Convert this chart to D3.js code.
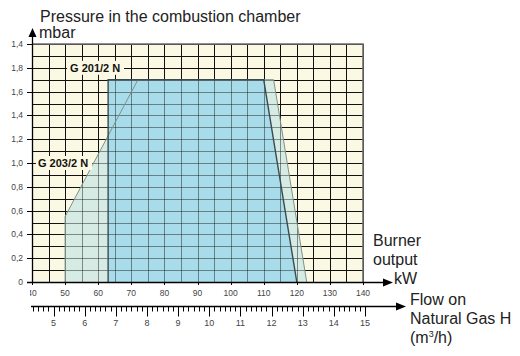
<!DOCTYPE html>
<html><head><meta charset="utf-8">
<script src="https://cdn.jsdelivr.net/npm/d3@7"></script>
<style>
html,body{margin:0;padding:0;background:#fff;}
svg{display:block;font-family:"Liberation Sans",Arial,Helvetica,sans-serif;}
</style></head>
<body>
<svg id="c" width="520" height="356"></svg>
<script>
// ---- data ----
const pressureTickValues = [0, 0.2, 0.4, 0.6, 0.8, 1.0, 1.2, 1.4, 1.6, 1.8, 2.0];
const pressureTickLabels = ["0", "0,2", "0,4", "0,6", "0,8", "1,0", "1,2", "1,4", "1,6", "1,8", "1,4"];
const kwTickValues = [40, 50, 60, 70, 80, 90, 100, 110, 120, 130, 140];
const flowTickValues = [5, 6, 7, 8, 9, 10, 11, 12, 13, 14, 15];
const g201Kw = [63, 63, 110, 120];
const g201Mbar = [0, 1.7, 1.7, 0];
const g203Kw = [50, 50, 72, 113, 123];
const g203Mbar = [0, 0.55, 1.7, 1.7, 0];
const seriesNames = ["G 201/2 N", "G 203/2 N"];

// ---- layout ----
const svg = d3.select("#c");
const x = d3.scaleLinear().domain([40, 140]).range([32, 363]);
const y = d3.scaleLinear().domain([0, 2]).range([282, 44]);
const flow = d3.scaleLinear().domain([5, 15]).range([53.5, 365]);
const cream = "#fbf9e3";
const px = v => Math.round(v) + 0.5;

// background
svg.append("rect").attr("x", x(40)).attr("y", y(2)).attr("width", x(140) - x(40)).attr("height", y(0) - y(2)).attr("fill", cream);

const gridX = d3.range(40, 140.1, 5);
const gridY = d3.range(0, 20.1, 1).map(d => d / 10);
function drawGrid(g, op) {
  g.selectAll(".v").data(gridX).join("line")
    .attr("x1", d => px(x(d))).attr("x2", d => px(x(d)))
    .attr("y1", y(2)).attr("y2", y(0))
    .attr("stroke", "#111").attr("stroke-opacity", op).attr("stroke-width", 1);
  g.selectAll(".h").data(gridY).join("line")
    .attr("y1", d => px(y(d))).attr("y2", d => px(y(d)))
    .attr("x1", x(40)).attr("x2", x(140))
    .attr("stroke", "#111").attr("stroke-opacity", op).attr("stroke-width", 1);
}
drawGrid(svg.append("g"), 1);

const line = d3.line().x(d => x(d[0])).y(d => y(d[1]));
const g203 = g203Kw.map((k, i) => [k, g203Mbar[i]]);
const g201 = g201Kw.map((k, i) => [k, g201Mbar[i]]);

svg.append("path").attr("d", line(g203) + "Z").attr("fill", "#d5ebe3");
svg.append("path").attr("d", line(g201) + "Z").attr("fill", "#a9dcea");

// grid seen through fills
const gOver = svg.append("g");
drawGrid(gOver, 0.45);

// outlines
svg.append("path").attr("d", line(g203)).attr("fill", "none").attr("stroke", "#7f9189").attr("stroke-width", 1);
svg.append("path").attr("d", line(g201)).attr("fill", "none").attr("stroke", "#3a4a50").attr("stroke-width", 1.4);

// plot border top/right
svg.append("path")
  .attr("d", `M${px(x(40))},${y(2)}H${x(140)}V${y(0)}`)
  .attr("fill", "none").attr("stroke", "#6e6e6e").attr("stroke-width", 1.6);

// series labels
function seriesLabel(name, kw, mb, x0, x1) {
  svg.append("rect").attr("x", x(x0)).attr("y", y(mb) - 7).attr("width", x(x1) - x(x0)).attr("height", 14).attr("fill", cream);
  svg.append("text").attr("x", x(kw)).attr("y", y(mb)).attr("dy", "0.36em")
    .attr("font-size", 11).attr("font-weight", "bold").attr("fill", "#111").text(name);
}
seriesLabel(seriesNames[0], 51.5, 1.8, 50.6, 67.8);
seriesLabel(seriesNames[1], 41.8, 1.0, 41.2, 58.2);

// y axis
svg.append("line").attr("x1", px(x(40))).attr("x2", px(x(40))).attr("y1", y(0)).attr("y2", 34)
  .attr("stroke", "#000").attr("stroke-width", 1.3);
svg.append("path").attr("d", `M${px(x(40))},28 L${px(x(40)) - 4},37 L${px(x(40)) + 4},37Z`).attr("fill", "#000");
svg.selectAll(".yt").data(pressureTickValues).join("line")
  .attr("x1", 27).attr("x2", x(40)).attr("y1", d => px(y(d))).attr("y2", d => px(y(d)))
  .attr("stroke", "#000").attr("stroke-width", 1);
svg.selectAll(".yl").data(pressureTickValues).join("text")
  .attr("x", 23).attr("y", d => y(d)).attr("dy", "0.35em").attr("text-anchor", "end")
  .attr("font-size", 8.5).attr("fill", "#444").text((d, i) => pressureTickLabels[i]);

// x axis (kW)
svg.append("line").attr("x1", 27).attr("x2", 386).attr("y1", px(y(0))).attr("y2", px(y(0)))
  .attr("stroke", "#000").attr("stroke-width", 1.4);
svg.append("path").attr("d", `M393,${px(y(0))} L383,${px(y(0)) - 4} L383,${px(y(0)) + 4}Z`).attr("fill", "#000");
svg.selectAll(".xt").data(kwTickValues).join("line")
  .attr("x1", d => px(x(d))).attr("x2", d => px(x(d))).attr("y1", y(0)).attr("y2", y(0) + 3)
  .attr("stroke", "#000");
svg.append("clipPath").attr("id", "lc").append("rect").attr("x", 30).attr("y", 280).attr("width", 480).attr("height", 30);
svg.append("g").attr("clip-path", "url(#lc)").selectAll(".xl").data(kwTickValues).join("text")
  .attr("x", d => x(d)).attr("y", 296).attr("text-anchor", "middle")
  .attr("font-size", 8.5).attr("fill", "#444").text(d => d);

// flow axis
const fy = 306.5;
svg.append("line").attr("x1", 31).attr("x2", 398).attr("y1", fy).attr("y2", fy).attr("stroke", "#000").attr("stroke-width", 1.3);
svg.append("path").attr("d", `M406,${fy} L396,${fy - 4} L396,${fy + 4}Z`).attr("fill", "#000");
const minorFlow = d3.range(26, 91).map(d => d / 6).filter(d => Math.abs(d - Math.round(d)) > 0.01);
svg.selectAll(".fm").data(minorFlow).join("line")
  .attr("x1", d => px(flow(d))).attr("x2", d => px(flow(d))).attr("y1", fy).attr("y2", fy + 5)
  .attr("stroke", "#000").attr("stroke-width", 1);
svg.selectAll(".fM").data(flowTickValues).join("line")
  .attr("x1", d => px(flow(d))).attr("x2", d => px(flow(d))).attr("y1", fy).attr("y2", fy + 10)
  .attr("stroke", "#000").attr("stroke-width", 1);
svg.selectAll(".fl").data(flowTickValues).join("text")
  .attr("x", d => flow(d)).attr("y", 326).attr("text-anchor", "middle")
  .attr("font-size", 9).attr("fill", "#444").text(d => d);

// titles
const tcol = "#222";
const fs = 16;
svg.append("text").attr("x", 40).attr("y", 22).attr("font-size", fs).attr("fill", tcol).text("Pressure in the combustion chamber");
svg.append("text").attr("x", 39).attr("y", 38).attr("font-size", fs).attr("fill", tcol).text("mbar");
svg.append("text").attr("x", 373).attr("y", 246).attr("font-size", fs).attr("fill", tcol).text("Burner");
svg.append("text").attr("x", 373).attr("y", 265).attr("font-size", fs).attr("fill", tcol).text("output");
svg.append("text").attr("x", 394).attr("y", 284).attr("font-size", fs).attr("fill", tcol).text("kW");
svg.append("text").attr("x", 410).attr("y", 305).attr("font-size", fs).attr("fill", tcol).text("Flow on");
svg.append("text").attr("x", 410).attr("y", 324).attr("font-size", fs).attr("fill", tcol).text("Natural Gas H");
const t3 = svg.append("text").attr("x", 410).attr("y", 343).attr("font-size", fs).attr("fill", tcol);
t3.append("tspan").text("(m");
t3.append("tspan").attr("font-size", 9).attr("dy", -6).text("3");
t3.append("tspan").attr("dy", 6).text("/h)");
</script>
</body></html>
